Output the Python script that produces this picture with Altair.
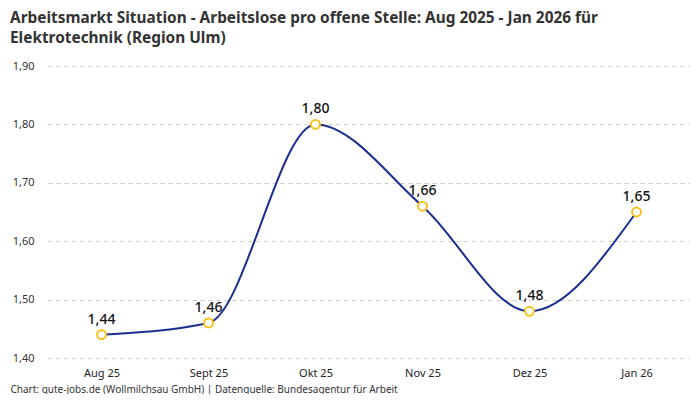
import altair as alt
import pandas as pd

# values
monate = ["Aug 25", "Sept 25", "Okt 25", "Nov 25", "Dez 25", "Jan 26"]
werte = [1.44, 1.46, 1.80, 1.66, 1.48, 1.65]
y_ticks = [1.4, 1.5, 1.6, 1.7, 1.8, 1.9]

titel = [
    "Arbeitsmarkt Situation - Arbeitslose pro offene Stelle: Aug 2025 - Jan 2026 für",
    "Elektrotechnik (Region Ulm)",
]
quelle = "Chart: gute-jobs.de (Wollmilchsau GmbH) | Datenquelle: Bundesagentur für Arbeit"

data = pd.DataFrame({"monat": monate, "wert": werte})

FONT = "Noto Sans"

x_enc = alt.X(
    "monat:N",
    sort=monate,
    scale=alt.Scale(type="point", padding=0.5),
    axis=alt.Axis(
        title=quelle,
        labelAngle=0,
        labelFontSize=11,
        labelColor="#222222",
        labelPadding=9,
        domain=False,
        ticks=False,
        grid=False,
        titleFontSize=10,
        titleFontWeight="normal",
        titleColor="#333333",
        titleAnchor="start",
        titleAlign="left",
        titleX=-38,
        titleY=26,
    ),
)
y_enc = alt.Y(
    "wert:Q",
    scale=alt.Scale(domain=[1.4, 1.9], nice=False, zero=False),
    axis=alt.Axis(
        title=None,
        values=y_ticks,
        labelExpr="replace(format(datum.value, '.2f'), '.', ',')",
        labelFontSize=11,
        labelColor="#333333",
        labelPadding=14,
        domain=False,
        ticks=False,
        gridDash=[4, 4],
        gridColor="#cccccc",
    ),
)

base = alt.Chart(data).encode(x=x_enc, y=y_enc)

line = base.mark_line(color="#1b2f8f", strokeWidth=2, interpolate="monotone")
points = base.mark_point(
    filled=True, fill="white", stroke="#f6c21c", strokeWidth=2, size=80, opacity=1
)
labels = (
    base.transform_calculate(label="replace(format(datum.wert, '.2f'), '.', ',')")
    .mark_text(dy=-15, fontSize=14, font=FONT, fontWeight=500, color="#111111")
    .encode(text="label:N")
)

chart = (
    (line + points + labels)
    .properties(
        width=642,
        height=292,
        padding={"left": 2, "right": 0, "top": 2, "bottom": 0},
        title=alt.TitleParams(
            text=titel,
            anchor="start",
            frame="bounds",
            fontSize=15.4,
            fontWeight="bold",
            font=FONT,
            color="#333333",
            lineHeight=20,
            offset=14,
        ),
    )
    .configure(font=FONT)
    .configure_view(stroke=None)
)

chart.save("out.html", embed_options={"renderer": "svg", "actions": False})
